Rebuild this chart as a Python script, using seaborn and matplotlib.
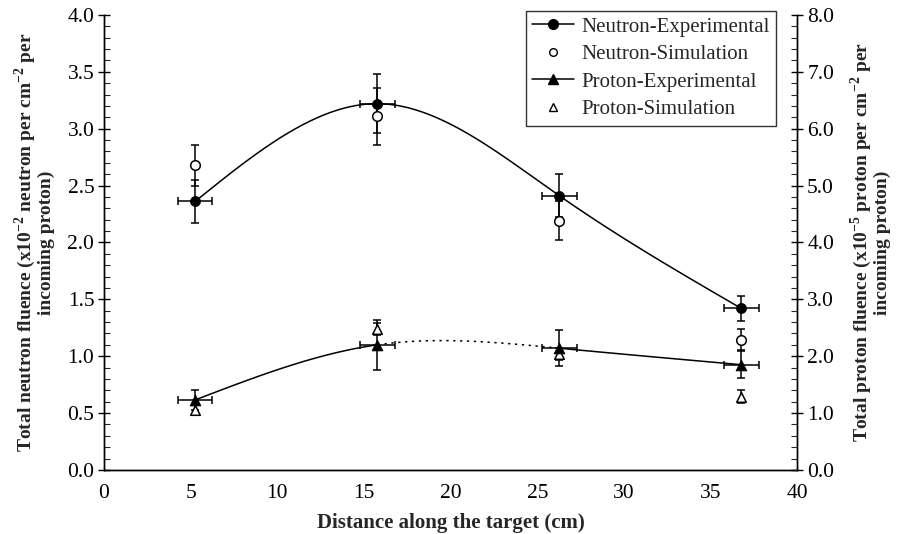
import numpy as np
import pandas as pd
import matplotlib
matplotlib.use("Agg")
import matplotlib.pyplot as plt
import seaborn as sns
from matplotlib.ticker import MultipleLocator, FormatStrFormatter
from matplotlib.lines import Line2D

# ---- data ----
distance = [5.25, 15.77, 26.27, 36.76]
x_err = [1.0, 1.0, 1.0, 1.0]
neutron_exp = [2.36, 3.22, 2.41, 1.42]
neutron_exp_err = [0.19, 0.26, 0.19, 0.11]
neutron_sim = [2.68, 3.11, 2.19, 1.145]
neutron_sim_err = [0.18, 0.25, 0.17, 0.095]
proton_exp = [1.23, 2.20, 2.14, 1.85]
proton_exp_err = [0.18, 0.44, 0.32, 0.24]
proton_sim = [1.06, 2.48, 2.04, 1.29]
proton_sim_err = [0.09, 0.10, 0.10, 0.12]


def natural_spline(xs, ys, xq):
    xs = np.asarray(xs, float); ys = np.asarray(ys, float)
    n = len(xs)
    h = np.diff(xs)
    A = np.zeros((n, n)); b = np.zeros(n)
    A[0, 0] = 1; A[-1, -1] = 1
    for i in range(1, n - 1):
        A[i, i - 1] = h[i - 1]
        A[i, i] = 2 * (h[i - 1] + h[i])
        A[i, i + 1] = h[i]
        b[i] = 3 * ((ys[i + 1] - ys[i]) / h[i] - (ys[i] - ys[i - 1]) / h[i - 1])
    c = np.linalg.solve(A, b)
    out = np.empty_like(xq)
    for k, x in enumerate(xq):
        i = min(max(np.searchsorted(xs, x) - 1, 0), n - 2)
        bi = (ys[i + 1] - ys[i]) / h[i] - h[i] * (2 * c[i] + c[i + 1]) / 3
        di = (c[i + 1] - c[i]) / (3 * h[i])
        t = x - xs[i]
        out[k] = ys[i] + bi * t + c[i] * t ** 2 + di * t ** 3
    return out


sns.set_style("ticks")
plt.rcParams['font.family'] = ['Liberation Serif', 'DejaVu Serif']
plt.rcParams['mathtext.fontset'] = 'custom'
plt.rcParams['mathtext.rm'] = 'Liberation Serif'
plt.rcParams['mathtext.bf'] = 'Liberation Serif:bold'
plt.rcParams['axes.unicode_minus'] = False

fig = plt.figure(figsize=(8.97, 5.34), dpi=100)
ax = fig.add_axes([0.116, 0.120, 0.773, 0.852])
ax2 = ax.twinx()

# curves
xq = np.linspace(distance[0], distance[-1], 300)
n_curve = pd.DataFrame({"x": xq, "y": natural_spline(distance, neutron_exp, xq)})
sns.lineplot(data=n_curve, x="x", y="y", ax=ax, color="black", lw=1.1, sort=False)

p_all = natural_spline(distance, proton_exp, xq)
seg1 = xq <= distance[1]
seg2 = (xq >= distance[1]) & (xq <= distance[2])
seg3 = xq >= distance[2]
for m, ls in [(seg1, "-"), (seg2, (0, (1.5, 3))), (seg3, "-")]:
    sns.lineplot(x=xq[m], y=p_all[m], ax=ax2, color="black", lw=1.1,
                 linestyle=ls, sort=False)

# error bars
ek = dict(fmt="none", ecolor="black", elinewidth=1.1, capsize=3, capthick=1.1)
ax.errorbar(distance, neutron_sim, yerr=neutron_sim_err, **ek)
ax.errorbar(distance, neutron_exp, yerr=neutron_exp_err, xerr=x_err, **ek)
ax2.errorbar(distance, proton_sim, yerr=proton_sim_err, **ek)
ax2.errorbar(distance, proton_exp, yerr=proton_exp_err, xerr=x_err, **ek)

# markers
sns.scatterplot(x=distance, y=neutron_sim, ax=ax, marker="o", s=48,
                facecolor="white", edgecolor="black", linewidth=1.1, zorder=5)
sns.scatterplot(x=distance, y=neutron_exp, ax=ax, marker="o", s=52,
                color="black", edgecolor="black", zorder=6)
sns.scatterplot(x=distance, y=proton_sim, ax=ax2, marker="^", s=48,
                facecolor="white", edgecolor="black", linewidth=1.1, zorder=5)
sns.scatterplot(x=distance, y=proton_exp, ax=ax2, marker="^", s=60,
                color="black", edgecolor="black", zorder=6)

# axes
ax.set_xlim(0, 40)
ax.set_ylim(0, 4.0)
ax2.set_ylim(0, 8.0)
ax.xaxis.set_major_locator(MultipleLocator(5))
ax.yaxis.set_major_locator(MultipleLocator(0.5))
ax.yaxis.set_minor_locator(MultipleLocator(0.1))
ax2.yaxis.set_major_locator(MultipleLocator(1.0))
ax2.yaxis.set_minor_locator(MultipleLocator(0.2))
ax.yaxis.set_major_formatter(FormatStrFormatter("%.1f"))
ax2.yaxis.set_major_formatter(FormatStrFormatter("%.1f"))

for a in (ax, ax2):
    a.spines["top"].set_visible(False)
    for s in a.spines.values():
        s.set_linewidth(1.0)
        s.set_color("black")
ax.tick_params(axis="y", which="major", direction="inout", length=8, width=1,
               labelsize=15.5, colors="black", pad=3)
ax.tick_params(axis="y", which="minor", direction="in", length=4, width=0.8)
ax2.tick_params(axis="y", which="major", direction="inout", length=8, width=1,
                labelsize=15.5, colors="black", pad=3)
ax2.tick_params(axis="y", which="minor", direction="in", length=4, width=0.8)
ax.tick_params(axis="x", which="major", direction="in", length=0, labelsize=15.5,
               colors="black", pad=10)

ax.set_xlabel("Distance along the target (cm)", fontsize=15, fontweight="bold",
              labelpad=7)
ax.set_ylabel("Total neutron fluence (x10$^{\\mathbf{-2}}$ neutron per cm$^{\\mathbf{-2}}$ per\nincoming proton)",
              fontsize=14, fontweight="bold", labelpad=9, linespacing=1.0)
ax2.set_ylabel("Total proton fluence (x10$^{\\mathbf{-5}}$ proton per cm$^{\\mathbf{-2}}$ per\nincoming proton)",
               fontsize=14, fontweight="bold", labelpad=10, linespacing=1.0,
               rotation=90)

handles = [
    Line2D([], [], color="black", marker="o", markersize=7, lw=1.1),
    Line2D([], [], color="black", marker="o", markersize=5.5, lw=0,
           markerfacecolor="white"),
    Line2D([], [], color="black", marker="^", markersize=7, lw=1.1),
    Line2D([], [], color="black", marker="^", markersize=5.5, lw=0,
           markerfacecolor="white"),
]
labels = ["Neutron-Experimental", "Neutron-Simulation",
          "Proton-Experimental", "Proton-Simulation"]
leg = ax2.legend(handles, labels, loc="upper right", bbox_to_anchor=(0.975, 1.018),
                 fontsize=15, frameon=True, fancybox=False, edgecolor="black",
                 handlelength=2.0, handletextpad=0.35, borderpad=0.3,
                 labelspacing=0.38, borderaxespad=0.2)
leg.get_frame().set_linewidth(1.0)

fig.savefig("out.png", dpi=100)
